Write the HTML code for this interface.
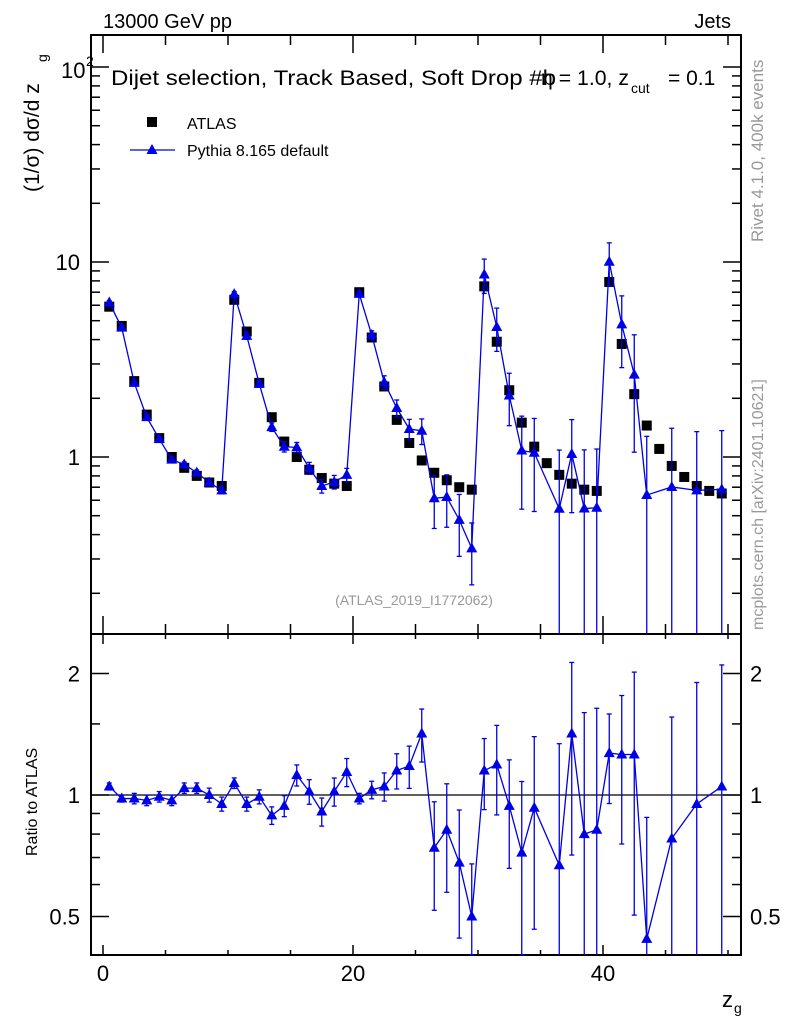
<!DOCTYPE html>
<html><head><meta charset="utf-8"><style>
body{margin:0;background:#fff;}
svg{display:block;font-family:"Liberation Sans",sans-serif;}
</style></head><body>
<svg id="chart" width="786" height="1024" viewBox="0 0 786 1024"></svg>
<script>
const bins = [0.5,1.5,2.5,3.5,4.5,5.5,6.5,7.5,8.5,9.5,10.5,11.5,12.5,13.5,14.5,15.5,16.5,17.5,18.5,19.5,20.5,21.5,22.5,23.5,24.5,25.5,26.5,27.5,28.5,29.5,30.5,31.5,32.5,33.5,34.5,35.5,36.5,37.5,38.5,39.5,40.5,41.5,42.5,43.5,44.5,45.5,46.5,47.5,48.5,49.5];
const atlasValues = [5.9,4.7,2.45,1.65,1.25,1.0,0.88,0.8,0.74,0.71,6.4,4.4,2.4,1.6,1.2,1.0,0.86,0.78,0.73,0.71,7.0,4.1,2.3,1.55,1.18,0.96,0.83,0.76,0.70,0.68,7.5,3.9,2.2,1.5,1.13,0.93,0.81,0.73,0.68,0.67,7.9,3.8,2.1,1.45,1.1,0.9,0.79,0.71,0.67,0.65];
const ratioValues = [1.05,0.98,0.98,0.97,0.99,0.97,1.04,1.04,1.0,0.95,1.07,0.95,0.99,0.89,0.94,1.12,1.02,0.91,1.02,1.14,0.98,1.03,1.05,1.15,1.18,1.42,0.74,0.82,0.68,0.50,1.15,1.19,0.94,0.72,0.93,null,0.67,1.42,0.80,0.82,1.27,1.26,1.26,0.44,null,0.78,null,0.95,null,1.05];
const pythiaRelErr = [0.02,0.02,0.03,0.03,0.03,0.03,0.03,0.03,0.04,0.04,0.03,0.04,0.04,0.05,0.06,0.06,0.07,0.08,0.08,0.08,0.03,0.05,0.08,0.1,0.12,0.15,0.3,0.3,0.35,0.35,0.2,0.25,0.3,0.5,0.5,0,1,0.5,1,1,0.25,0.4,0.6,1,0,1,0,1,0,1];
const xTickLabels = [0,20,40];
const mainTickLabels = [{v:1,t:"1"},{v:10,t:"10"}];
const ratioTickLabels = [{v:0.5,t:"0.5"},{v:1,t:"1"},{v:2,t:"2"}];

const svg=document.getElementById('chart');
const NS="http://www.w3.org/2000/svg";
function el(tag,attrs,parent){const e=document.createElementNS(NS,tag);for(const k in attrs)e.setAttribute(k,attrs[k]);(parent||svg).appendChild(e);return e;}
const L=91,R=741,T=35,MB=634,RB=955;
const xs=v=>103+(v)*12.5;
const ym=v=>457-Math.log10(v)*195;
const yr=v=>795-Math.log2(v)*121.5;
const clipM=v=>Math.min(Math.max(v,T),MB);
const clipR=v=>Math.min(Math.max(v,MB),RB);

let f1=el('rect',{x:L,y:T,width:R-L,height:MB-T,fill:'none',stroke:'#000','stroke-width':2});

let f2=el('rect',{x:L,y:MB,width:R-L,height:RB-MB,fill:'none',stroke:'#000','stroke-width':2});


for(let v=0;v<=50;v+=5){
  const x=xs(v),big=(v%20===0);const h=big?18:10;
  el('line',{x1:x,x2:x,y1:MB,y2:MB-h,stroke:'#000','stroke-width':1.5});
  el('line',{x1:x,x2:x,y1:T,y2:T+h,stroke:'#000','stroke-width':1.5});
  el('line',{x1:x,x2:x,y1:RB,y2:RB-(big?10:5),stroke:'#000','stroke-width':1.5});
  el('line',{x1:x,x2:x,y1:MB,y2:MB+(big?10:5),stroke:'#000','stroke-width':1.5});
}
xTickLabels.forEach(v=>{const t=el('text',{x:xs(v),y:981,'font-size':22,'text-anchor':'middle'});t.textContent=v;
});

for(let d=-1;d<=2;d++)for(let m=1;m<=9;m++){const v=m*Math.pow(10,d);const y=ym(v);if(y<T||y>MB)continue;
 const w=m===1?18:9;
 el('line',{x1:L,x2:L+w,y1:y,y2:y,stroke:'#000','stroke-width':1.5});
 el('line',{x1:R,x2:R-w,y1:y,y2:y,stroke:'#000','stroke-width':1.5});}
mainTickLabels.forEach(o=>{const t=el('text',{x:80,y:ym(o.v)+8,'font-size':22,'text-anchor':'end'});t.textContent=o.t;
});
let t100=el('text',{x:61,y:ym(100)+11,'font-size':22});t100.textContent='10';

let t100e=el('text',{x:86,y:ym(100)-1,'font-size':14});t100e.textContent='2';


[0.5,0.6,0.7,0.8,0.9,1,1.5,2].forEach(v=>{const y=yr(v);const w=(v===0.5||v===1||v===2)?18:9;
 el('line',{x1:L,x2:L+w,y1:y,y2:y,stroke:'#000','stroke-width':1.5});
 el('line',{x1:R,x2:R-w,y1:y,y2:y,stroke:'#000','stroke-width':1.5});});
ratioTickLabels.forEach(o=>{let t=el('text',{x:80,y:yr(o.v)+8,'font-size':22,'text-anchor':'end'});t.textContent=o.t;

t=el('text',{x:750,y:yr(o.v)+8,'font-size':22});t.textContent=o.t;
});
el('line',{x1:L,x2:R,y1:yr(1),y2:yr(1),stroke:'#000','stroke-width':1.2});

bins.forEach((b,i)=>{const r=el('rect',{x:xs(b)-5,y:ym(atlasValues[i])-5,width:10,height:10,fill:'#000'});
});

const blue='#0000e6';
let pts=[],rpts=[];
bins.forEach((b,i)=>{const r=ratioValues[i];if(r===null)return;const v=atlasValues[i]*r;const e=pythiaRelErr[i]*v;
 const x=xs(b);pts.push(x+','+ym(v));rpts.push(x+','+yr(r));
 const lo=v-e>0?ym(v-e):MB;
 el('line',{x1:x,x2:x,y1:clipM(ym(v+e)),y2:clipM(lo),stroke:blue,'stroke-width':1.3});
 el('line',{x1:x-2.5,x2:x+2.5,y1:clipM(ym(v+e)),y2:clipM(ym(v+e)),stroke:blue,'stroke-width':1.3});
 if(v-e>0)el('line',{x1:x-2.5,x2:x+2.5,y1:lo,y2:lo,stroke:blue,'stroke-width':1.3});
 const re=pythiaRelErr[i]*r;const rlo=r-re>0?yr(r-re):RB;
 el('line',{x1:x,x2:x,y1:clipR(yr(r+re)),y2:clipR(rlo),stroke:blue,'stroke-width':1.3});
 el('line',{x1:x-2.5,x2:x+2.5,y1:clipR(yr(r+re)),y2:clipR(yr(r+re)),stroke:blue,'stroke-width':1.3});
 if(r-re>0)el('line',{x1:x-2.5,x2:x+2.5,y1:clipR(rlo),y2:clipR(rlo),stroke:blue,'stroke-width':1.3});
});
let pl=el('polyline',{points:pts.join(' '),fill:'none',stroke:blue,'stroke-width':1.3});

let rl=el('polyline',{points:rpts.join(' '),fill:'none',stroke:blue,'stroke-width':1.3});

function tri(x,y,name){const p=el('polygon',{points:`${x},${y-6} ${x-5.5},${y+4} ${x+5.5},${y+4}`,fill:blue});
 }
pts.forEach(s=>{const [x,y]=s.split(',').map(Number);tri(x,y,'pythia-point');});
rpts.forEach(s=>{const [x,y]=s.split(',').map(Number);tri(x,y,'ratio-point');});

let lr=el('rect',{x:147,y:117,width:10,height:10,fill:'#000'});
el('line',{x1:130,x2:175,y1:150,y2:150,stroke:blue,'stroke-width':1.3});
tri(152,150,'legend-pythia-marker');
function txt(x,y,s,size,attrs,name){const t=el('text',Object.assign({x:x,y:y,'font-size':size},attrs||{}));t.textContent=s;
 return t;}
txt(187,129,'ATLAS',16,{},'legend-atlas');
txt(187,156,'Pythia 8.165 default',16,{},'legend-pythia');
txt(103,28,'13000 GeV pp',20,{},'beam-label');
txt(731,28,'Jets',20,{'text-anchor':'end'},'process-label');
txt(111,85,'Dijet selection, Track Based, Soft Drop #b',21,{textLength:445,lengthAdjust:'spacingAndGlyphs'},'plot-title');
txt(541,85,'η = 1.0, z',21,{textLength:88,lengthAdjust:'spacingAndGlyphs'},'plot-title-2');
txt(631,93,'cut',14,{},'plot-title-sub');
txt(668,85,'= 0.1',21,{},'plot-title-3');
txt(414,605,'(ATLAS_2019_I1772062)',14,{fill:'#999','text-anchor':'middle'},'analysis-id');
txt(0,0,'Rivet 4.1.0,  400k events',17,{fill:'#999',transform:'translate(763,242) rotate(-90)'},'rivet-label');
txt(0,0,'mcplots.cern.ch [arXiv:2401.10621]',16,{fill:'#999',transform:'translate(763,630) rotate(-90)'},'mcplots-label');
txt(0,0,'(1/σ) dσ/d z',21,{transform:'translate(39,192) rotate(-90)'},'y-axis-title');
txt(0,0,'g',14,{transform:'translate(47,62) rotate(-90)'},'y-axis-title-sub');
txt(0,0,'Ratio to ATLAS',16,{transform:'translate(37,856) rotate(-90)'},'ratio-axis-title');
txt(722,1007,'z',22,{},'x-axis-title');
txt(734,1013,'g',14,{},'x-axis-title-sub');
</script>
</body></html>
